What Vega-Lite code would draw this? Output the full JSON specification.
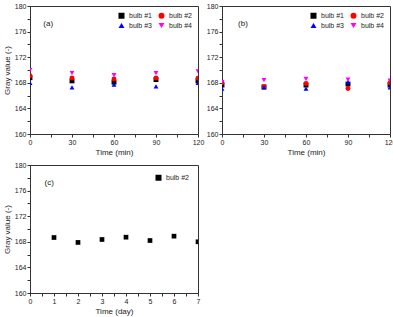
{
  "$schema": "https://vega.github.io/schema/vega-lite/v6.json",
  "padding": {"left": 2, "top": 1, "right": 2, "bottom": 0},
  "background": "white",
  "config": {
    "font": "Liberation Sans",
    "view": {"stroke": "#333", "strokeWidth": 1},
    "axis": {"grid": false, "domainColor": "#333", "tickColor": "#333", "tickSize": 3, "labelFontSize": 7, "labelColor": "#222", "titleFontSize": 8, "titleFontWeight": "normal", "titleColor": "#222", "labelPadding": 1, "labelFlush": false, "labelOverlap": false, "labelSeparation": 0, "titlePadding": 3},
    "legend": {"orient": "top-right", "offset": 6, "columns": 2, "labelFontSize": 7, "labelColor": "#222", "symbolSize": 36, "rowPadding": 2, "columnPadding": 6, "labelOffset": 4, "padding": 0, "symbolStrokeWidth": 0, "symbolOpacity": 1}
  },
  "datasets": {
    "ab": [
      {"panel": "a", "time": 0, "bulb": "bulb #1", "gray": 168.8},
      {"panel": "a", "time": 30, "bulb": "bulb #1", "gray": 168.3},
      {"panel": "a", "time": 60, "bulb": "bulb #1", "gray": 168.1},
      {"panel": "a", "time": 90, "bulb": "bulb #1", "gray": 168.5},
      {"panel": "a", "time": 120, "bulb": "bulb #1", "gray": 168.3},
      {"panel": "a", "time": 0, "bulb": "bulb #2", "gray": 169.1},
      {"panel": "a", "time": 30, "bulb": "bulb #2", "gray": 168.75},
      {"panel": "a", "time": 60, "bulb": "bulb #2", "gray": 168.6},
      {"panel": "a", "time": 90, "bulb": "bulb #2", "gray": 168.75},
      {"panel": "a", "time": 120, "bulb": "bulb #2", "gray": 168.7},
      {"panel": "a", "time": 0, "bulb": "bulb #3", "gray": 168.0},
      {"panel": "a", "time": 30, "bulb": "bulb #3", "gray": 167.3},
      {"panel": "a", "time": 60, "bulb": "bulb #3", "gray": 167.7},
      {"panel": "a", "time": 90, "bulb": "bulb #3", "gray": 167.45},
      {"panel": "a", "time": 120, "bulb": "bulb #3", "gray": 168.0},
      {"panel": "a", "time": 0, "bulb": "bulb #4", "gray": 170.0},
      {"panel": "a", "time": 30, "bulb": "bulb #4", "gray": 169.5},
      {"panel": "a", "time": 60, "bulb": "bulb #4", "gray": 169.2},
      {"panel": "a", "time": 90, "bulb": "bulb #4", "gray": 169.5},
      {"panel": "a", "time": 120, "bulb": "bulb #4", "gray": 169.8},
      {"panel": "b", "time": 0, "bulb": "bulb #1", "gray": 167.65},
      {"panel": "b", "time": 30, "bulb": "bulb #1", "gray": 167.35},
      {"panel": "b", "time": 60, "bulb": "bulb #1", "gray": 167.65},
      {"panel": "b", "time": 90, "bulb": "bulb #1", "gray": 167.8},
      {"panel": "b", "time": 120, "bulb": "bulb #1", "gray": 167.65},
      {"panel": "b", "time": 0, "bulb": "bulb #2", "gray": 168.0},
      {"panel": "b", "time": 30, "bulb": "bulb #2", "gray": 167.4},
      {"panel": "b", "time": 60, "bulb": "bulb #2", "gray": 167.9},
      {"panel": "b", "time": 90, "bulb": "bulb #2", "gray": 167.1},
      {"panel": "b", "time": 120, "bulb": "bulb #2", "gray": 168.0},
      {"panel": "b", "time": 0, "bulb": "bulb #3", "gray": 167.1},
      {"panel": "b", "time": 30, "bulb": "bulb #3", "gray": 167.3},
      {"panel": "b", "time": 60, "bulb": "bulb #3", "gray": 167.1},
      {"panel": "b", "time": 90, "bulb": "bulb #3", "gray": 168.1},
      {"panel": "b", "time": 120, "bulb": "bulb #3", "gray": 167.3},
      {"panel": "b", "time": 0, "bulb": "bulb #4", "gray": 168.1},
      {"panel": "b", "time": 30, "bulb": "bulb #4", "gray": 168.4},
      {"panel": "b", "time": 60, "bulb": "bulb #4", "gray": 168.6},
      {"panel": "b", "time": 90, "bulb": "bulb #4", "gray": 168.5},
      {"panel": "b", "time": 120, "bulb": "bulb #4", "gray": 168.35}
    ],
    "c": [
      {"day": 1, "bulb": "bulb #2", "gray": 168.67},
      {"day": 2, "bulb": "bulb #2", "gray": 167.9},
      {"day": 3, "bulb": "bulb #2", "gray": 168.36},
      {"day": 4, "bulb": "bulb #2", "gray": 168.72},
      {"day": 5, "bulb": "bulb #2", "gray": 168.2},
      {"day": 6, "bulb": "bulb #2", "gray": 168.88},
      {"day": 7, "bulb": "bulb #2", "gray": 168.0}
    ]
  },
  "columns": 2,
  "spacing": {"row": 31, "column": 24},
  "bounds": "flush",
  "resolve": {"scale": {"color": "independent", "shape": "independent"}},
  "concat": [
    {
      "width": 168, "height": 128,
      "layer": [
        {
          "data": {"name": "ab"},
          "transform": [{"filter": "datum.panel == 'a'"}],
          "mark": {"type": "point", "filled": true, "size": 24, "clip": true, "opacity": 1},
          "encoding": {
            "x": {"field": "time", "type": "quantitative", "scale": {"domain": [0, 120], "nice": false}, "axis": {"values": [0, 15, 30, 45, 60, 75, 90, 105, 120], "labelExpr": "indexof(['0','30','60','90','120'], datum.label) >= 0 ? datum.label : ''", "labelOverlap": false, "title": "Time (min)"}},
            "y": {"field": "gray", "type": "quantitative", "scale": {"domain": [160, 180], "zero": false, "nice": false}, "axis": {"values": [160, 162, 164, 166, 168, 170, 172, 174, 176, 178, 180], "labelExpr": "indexof(['160','164','168','172','176','180'], datum.label) >= 0 ? datum.label : ''", "labelOverlap": false, "title": "Gray value (-)"}},
            "color": {"field": "bulb", "type": "nominal", "scale": {"domain": ["bulb #1", "bulb #3", "bulb #2", "bulb #4"], "range": ["#000000", "#0000ff", "#ff0000", "#ff00ff"]}, "legend": {"title": null}},
            "shape": {"field": "bulb", "type": "nominal", "scale": {"domain": ["bulb #1", "bulb #3", "bulb #2", "bulb #4"], "range": ["square", "triangle-up", "circle", "triangle-down"]}, "legend": {"title": null}}
          }
        },
        {
          "data": {"values": [{"label": "(a)"}]},
          "mark": {"type": "text", "fontSize": 8, "color": "#222"},
          "encoding": {
            "x": {"datum": 13, "type": "quantitative", "axis": {"values": [0, 15, 30, 45, 60, 75, 90, 105, 120], "labelExpr": "indexof(['0','30','60','90','120'], datum.label) >= 0 ? datum.label : ''", "labelOverlap": false, "title": "Time (min)"}},
            "y": {"datum": 177.2, "type": "quantitative", "axis": {"values": [160, 162, 164, 166, 168, 170, 172, 174, 176, 178, 180], "labelExpr": "indexof(['160','164','168','172','176','180'], datum.label) >= 0 ? datum.label : ''", "labelOverlap": false, "title": "Gray value (-)"}},
            "text": {"field": "label"}
          }
        }
      ]
    },
    {
      "width": 168, "height": 128,
      "layer": [
        {
          "data": {"name": "ab"},
          "transform": [{"filter": "datum.panel == 'b'"}],
          "mark": {"type": "point", "filled": true, "size": 24, "clip": true, "opacity": 1},
          "encoding": {
            "x": {"field": "time", "type": "quantitative", "scale": {"domain": [0, 120], "nice": false}, "axis": {"values": [0, 15, 30, 45, 60, 75, 90, 105, 120], "labelExpr": "indexof(['0','30','60','90','120'], datum.label) >= 0 ? datum.label : ''", "labelOverlap": false, "title": "Time (min)"}},
            "y": {"field": "gray", "type": "quantitative", "scale": {"domain": [160, 180], "zero": false, "nice": false}, "axis": {"values": [160, 162, 164, 166, 168, 170, 172, 174, 176, 178, 180], "labelExpr": "indexof(['160','164','168','172','176','180'], datum.label) >= 0 ? datum.label : ''", "labelOverlap": false, "title": null}},
            "color": {"field": "bulb", "type": "nominal", "scale": {"domain": ["bulb #1", "bulb #3", "bulb #2", "bulb #4"], "range": ["#000000", "#0000ff", "#ff0000", "#ff00ff"]}, "legend": {"title": null}},
            "shape": {"field": "bulb", "type": "nominal", "scale": {"domain": ["bulb #1", "bulb #3", "bulb #2", "bulb #4"], "range": ["square", "triangle-up", "circle", "triangle-down"]}, "legend": {"title": null}}
          }
        },
        {
          "data": {"values": [{"label": "(b)"}]},
          "mark": {"type": "text", "fontSize": 8, "color": "#222"},
          "encoding": {
            "x": {"datum": 15, "type": "quantitative", "axis": {"values": [0, 15, 30, 45, 60, 75, 90, 105, 120], "labelExpr": "indexof(['0','30','60','90','120'], datum.label) >= 0 ? datum.label : ''", "labelOverlap": false, "title": "Time (min)"}},
            "y": {"datum": 177.2, "type": "quantitative", "axis": {"values": [160, 162, 164, 166, 168, 170, 172, 174, 176, 178, 180], "labelExpr": "indexof(['160','164','168','172','176','180'], datum.label) >= 0 ? datum.label : ''", "labelOverlap": false, "title": null}},
            "text": {"field": "label"}
          }
        }
      ]
    },
    {
      "width": 168, "height": 128,
      "layer": [
        {
          "data": {"name": "c"},
          "mark": {"type": "point", "filled": true, "size": 22, "clip": true, "opacity": 1},
          "encoding": {
            "x": {"field": "day", "type": "quantitative", "scale": {"domain": [0, 7], "nice": false}, "axis": {"values": [0, 0.5, 1, 1.5, 2, 2.5, 3, 3.5, 4, 4.5, 5, 5.5, 6, 6.5, 7], "labelExpr": "datum.value % 1 == 0 ? format(datum.value, 'd') : ''", "labelOverlap": false, "title": "Time (day)"}},
            "y": {"field": "gray", "type": "quantitative", "scale": {"domain": [160, 180], "zero": false, "nice": false}, "axis": {"values": [160, 162, 164, 166, 168, 170, 172, 174, 176, 178, 180], "labelExpr": "indexof(['160','164','168','172','176','180'], datum.label) >= 0 ? datum.label : ''", "labelOverlap": false, "title": "Gray value (-)"}},
            "color": {"field": "bulb", "type": "nominal", "scale": {"domain": ["bulb #2"], "range": ["#000000"]}, "legend": {"title": null, "offset": 9}},
            "shape": {"field": "bulb", "type": "nominal", "scale": {"domain": ["bulb #2"], "range": ["square"]}, "legend": {"title": null, "offset": 9}}
          }
        },
        {
          "data": {"values": [{"label": "(c)"}]},
          "mark": {"type": "text", "fontSize": 8, "color": "#222"},
          "encoding": {
            "x": {"datum": 0.8, "type": "quantitative", "axis": {"values": [0, 0.5, 1, 1.5, 2, 2.5, 3, 3.5, 4, 4.5, 5, 5.5, 6, 6.5, 7], "labelExpr": "datum.value % 1 == 0 ? format(datum.value, 'd') : ''", "labelOverlap": false, "title": "Time (day)"}},
            "y": {"datum": 177.2, "type": "quantitative", "axis": {"values": [160, 162, 164, 166, 168, 170, 172, 174, 176, 178, 180], "labelExpr": "indexof(['160','164','168','172','176','180'], datum.label) >= 0 ? datum.label : ''", "labelOverlap": false, "title": "Gray value (-)"}},
            "text": {"field": "label"}
          }
        }
      ]
    }
  ]
}
